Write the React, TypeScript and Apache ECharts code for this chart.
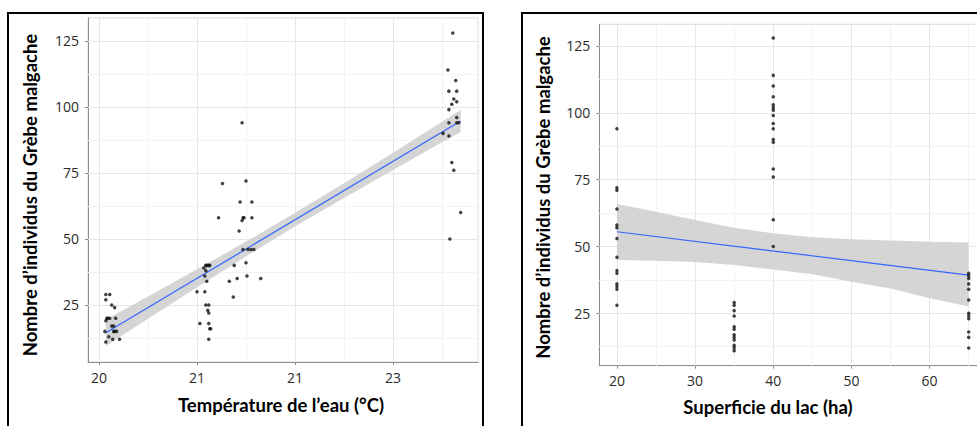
import React, { useEffect, useRef } from "react";
import * as echarts from "echarts";

// ---------- axis ticks ----------
const tempTicks = [20, 21, 22, 23];
const tempTickLabels = ["20", "21", "21", "23"];
const tempMinor = [20.5, 21.5, 22.5, 23.5];
const areaTicks = [20, 30, 40, 50, 60];
const areaMinor = [25, 35, 45, 55, 65];
const countTicks = [25, 50, 75, 100, 125];
const countMinor = [12.5, 37.5, 62.5, 87.5, 112.5];

// ---------- left panel: water temperature vs count ----------
const tempX = [
  20.07, 20.11, 20.07, 20.13, 20.16, 20.08, 20.09, 20.11, 20.07, 20.17,
  20.13, 20.15, 20.06, 20.15, 20.16, 20.18, 20.1, 20.14, 20.21, 20.07,
  21.0, 21.03, 21.07, 21.08, 21.08, 21.09, 21.1, 21.12, 21.13, 21.09,
  21.1, 21.09, 21.12, 21.11, 21.12, 21.12, 21.13, 21.14, 21.12, 21.22,
  21.26, 21.33, 21.37, 21.38, 21.41, 21.43, 21.44, 21.46, 21.46, 21.47,
  21.48, 21.47, 21.5, 21.5, 21.51, 21.52, 21.55, 21.58, 21.56, 21.56,
  21.65,
  23.51, 23.56, 23.57, 23.57, 23.57, 23.57, 23.58, 23.6, 23.6, 23.61,
  23.62, 23.62, 23.64, 23.65, 23.65, 23.65, 23.65, 23.67, 23.69,
];
const tempCount = [
  29, 29, 27, 25, 24, 20, 20, 20, 19, 20,
  17, 17, 15, 15, 15, 15, 13, 12, 12, 11,
  30, 18, 39, 36, 30, 40, 40, 40, 40, 38,
  34, 25, 25, 23, 22, 18, 16, 16, 12, 58,
  71, 34, 28, 40, 35, 53, 64, 94, 57, 58,
  58, 46, 72, 41, 36, 46, 46, 46, 64, 58,
  35,
  90, 114, 106, 99, 94, 89, 50, 101, 79, 128,
  76, 103, 110, 102, 106, 96, 94, 94, 60,
];
const tempFitX = [20.07, 23.69];
const tempFitY = [14.5, 94.7];
const tempBandX = [20.07, 20.5, 21.0, 21.5, 22.0, 22.5, 23.0, 23.5, 23.69];
const tempBandLow = [9.5, 19.8, 31.7, 43.4, 54.7, 65.5, 76.1, 86.6, 90.5];
const tempBandHigh = [19.5, 28.2, 38.5, 49.0, 59.9, 71.1, 82.7, 94.4, 98.9];

// ---------- right panel: lake area vs count ----------
const lake20Counts = [94, 72, 71, 64, 58, 57, 53, 46, 41, 40, 36, 35, 34, 28];
const lake35Counts = [29, 28, 26, 24, 20, 19, 17, 16, 15, 13, 12, 11];
const lake40Counts = [128, 114, 110, 106, 103, 102, 101, 99, 96, 94, 90, 89, 79, 76, 60, 50];
const lake65Counts = [40, 39, 38, 36, 34, 30, 25, 24, 23, 18, 16, 12];
const lakeAreas = [20, 35, 40, 65];
const lakeGroups = [lake20Counts, lake35Counts, lake40Counts, lake65Counts];
const areaFitX = [20, 65];
const areaFitY = [55.5, 39.3];
const areaBandX = [20, 25, 30, 35, 40, 45, 50, 55, 60, 65];
const areaBandLow = [44.9, 44.7, 44.2, 43.1, 41.4, 39.6, 36.8, 34.3, 30.6, 27.5];
const areaBandHigh = [65.9, 63.0, 59.9, 57.0, 54.9, 53.4, 52.7, 52.2, 51.8, 51.5];

const yTitle = "Nombre d\u2019individus du Gr\u00e8be malgache";
const xTitleLeft = "Temp\u00e9rature de l\u2019eau (\u00b0C)";
const xTitleRight = "Superficie du lac (ha)";

const TITLE_FONT = "Lato";
const TICK_FONT = "Open Sans";
const majorLine = { color: "#e6e6e6", width: 1, type: "solid" as const };
const minorLine = { color: "#f3f3f3", width: 1, type: "solid" as const };
const axisGray = "#8c8c8c";

function gridMarks(xMajor: number[], xMinor: number[]) {
  return {
    silent: true,
    symbol: ["none", "none"],
    z: 1,
    label: { show: false },
    emphasis: { disabled: true },
    data: [
      ...xMinor.map((v) => ({ xAxis: v, lineStyle: minorLine })),
      ...countMinor.map((v) => ({ yAxis: v, lineStyle: minorLine })),
      ...xMajor.map((v) => ({ xAxis: v, lineStyle: majorLine })),
      ...countTicks.map((v) => ({ yAxis: v, lineStyle: majorLine })),
    ],
  };
}

function bandSeries(idx: number, xs: number[], lo: number[], hi: number[]) {
  return {
    type: "custom",
    xAxisIndex: idx,
    yAxisIndex: idx,
    silent: true,
    z: 2,
    encode: { x: 0, y: [1, 2] },
    data: xs.map((x, i) => [x, lo[i], hi[i]]),
    renderItem: (params: any, api: any) => {
      if (params.dataIndex !== 0) return { type: "group", children: [] };
      const pts: number[][] = [];
      for (let i = 0; i < xs.length; i++) pts.push(api.coord([xs[i], hi[i]]));
      for (let i = xs.length - 1; i >= 0; i--) pts.push(api.coord([xs[i], lo[i]]));
      return {
        type: "polygon",
        shape: { points: pts },
        style: { fill: "#d5d5d5", stroke: "none" },
      };
    },
  };
}

function xAxisCfg(idx: number, min: number, max: number, ticks: number[], fmt: (v: number) => string) {
  return {
    gridIndex: idx,
    type: "value",
    min,
    max,
    axisLine: { show: true, onZero: false, lineStyle: { color: axisGray, width: 1 } },
    axisTick: { show: true, customValues: ticks, length: 3, lineStyle: { color: axisGray } },
    axisLabel: {
      customValues: ticks,
      formatter: fmt,
      fontFamily: TICK_FONT,
      fontSize: 14,
      color: "#2b2b2b",
      margin: 8,
    },
    splitLine: { show: false },
  };
}

function yAxisCfg(idx: number, min: number, max: number) {
  return {
    gridIndex: idx,
    type: "value",
    min,
    max,
    axisLine: { show: true, onZero: false, lineStyle: { color: axisGray, width: 1 } },
    axisTick: { show: true, customValues: countTicks, length: 3, lineStyle: { color: axisGray } },
    axisLabel: {
      customValues: countTicks,
      fontFamily: TICK_FONT,
      fontSize: 14,
      color: "#2b2b2b",
      margin: 9,
    },
    splitLine: { show: false },
  };
}

function titleText(text: string, x: number, y: number, rotation = 0) {
  return {
    type: "text",
    x,
    y,
    rotation,
    silent: true,
    style: {
      text,
      font: `bold 18.5px ${TITLE_FONT}`,
      fill: "#000",
      align: "center",
      verticalAlign: "middle",
      textAlign: "center",
      textVerticalAlign: "middle",
    },
  };
}

const leftPoints = tempX.map((x, i) => [x, tempCount[i]]);
const rightPoints: number[][] = [];
lakeAreas.forEach((a, g) => lakeGroups[g].forEach((c) => rightPoints.push([a, c])));

const option: any = {
  animation: false,
  backgroundColor: "#fff",
  grid: [
    { left: 88, top: 18, width: 390, height: 344, show: true, borderColor: "#dcdcdc", borderWidth: 1, backgroundColor: "#fff" },
    { left: 599.3, top: 24.3, width: 387, height: 341.4, show: true, borderColor: "#dcdcdc", borderWidth: 1, backgroundColor: "#fff" },
  ],
  xAxis: [
    xAxisCfg(0, 19.888, 23.867, tempTicks, (v: number) => tempTickLabels[tempTicks.indexOf(v)] ?? String(v)),
    xAxisCfg(1, 17.75, 67.25, areaTicks, (v: number) => String(v)),
  ],
  yAxis: [yAxisCfg(0, 3.4, 133.7), yAxisCfg(1, 5.4, 133.1)],
  series: [
    {
      type: "line",
      xAxisIndex: 0,
      yAxisIndex: 0,
      data: tempFitX.map((x, i) => [x, tempFitY[i]]),
      symbol: "none",
      silent: true,
      z: 3,
      lineStyle: { color: "#3366ff", width: 1.2 },
      markLine: gridMarks(tempTicks, tempMinor),
    },
    bandSeries(0, tempBandX, tempBandLow, tempBandHigh),
    {
      type: "scatter",
      xAxisIndex: 0,
      yAxisIndex: 0,
      data: leftPoints,
      symbol: "circle",
      symbolSize: 3.5,
      silent: true,
      z: 4,
      itemStyle: { color: "#111" },
    },
    {
      type: "line",
      xAxisIndex: 1,
      yAxisIndex: 1,
      data: areaFitX.map((x, i) => [x, areaFitY[i]]),
      symbol: "none",
      silent: true,
      z: 3,
      lineStyle: { color: "#3366ff", width: 1.2 },
      markLine: gridMarks(areaTicks, areaMinor),
    },
    bandSeries(1, areaBandX, areaBandLow, areaBandHigh),
    {
      type: "scatter",
      xAxisIndex: 1,
      yAxisIndex: 1,
      data: rightPoints,
      symbol: "circle",
      symbolSize: 3.5,
      silent: true,
      z: 4,
      itemStyle: { color: "#111" },
    },
  ],
  graphic: [
    { type: "rect", silent: true, shape: { x: 8, y: 13, width: 475, height: 440 }, style: { fill: "none", stroke: "#000", lineWidth: 2 } },
    { type: "rect", silent: true, shape: { x: 522, y: 13, width: 470, height: 440 }, style: { fill: "none", stroke: "#000", lineWidth: 2 } },
    titleText(yTitle, 30, 195, Math.PI / 2),
    titleText(yTitle, 543, 197.5, Math.PI / 2),
    titleText(xTitleLeft, 281, 405),
    titleText(xTitleRight, 768, 407),
  ],
};

export default function App() {
  const ref = useRef<HTMLDivElement>(null);
  useEffect(() => {
    if (!ref.current) return;
    const chart = echarts.init(ref.current, null, { renderer: "svg" });
    chart.setOption(option);
    return () => chart.dispose();
  }, []);
  return (
    <div
      style={{
        position: "fixed",
        left: 0,
        top: 0,
        width: 977,
        height: 426,
        overflow: "hidden",
        background: "#fff",
      }}
    >
      <div ref={ref} style={{ width: 1000, height: 426 }} />
    </div>
  );
}
